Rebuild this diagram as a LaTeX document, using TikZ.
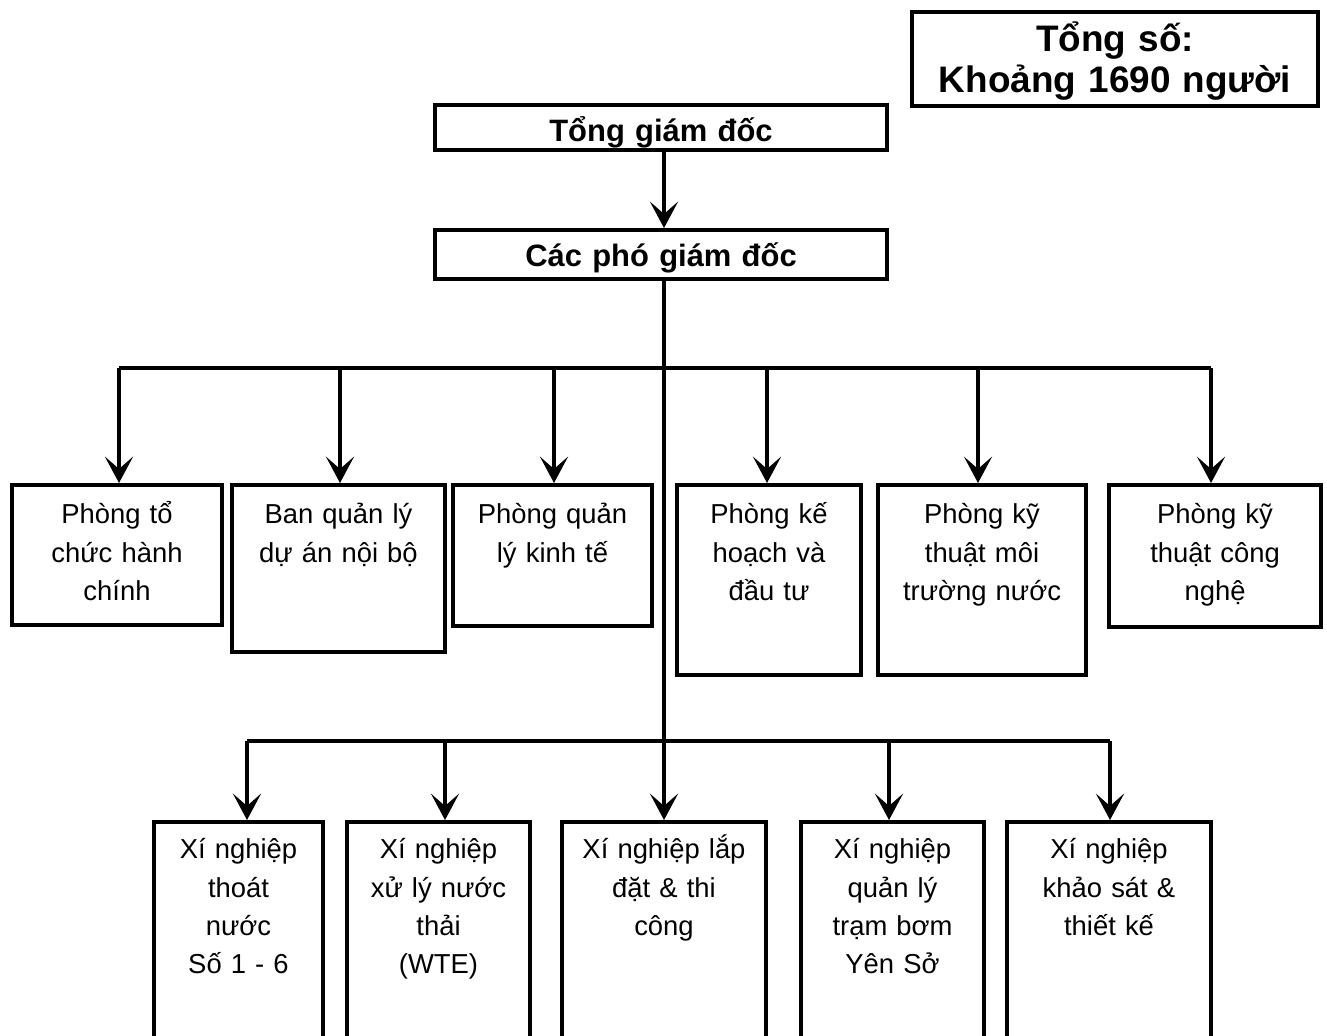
\documentclass[tikz,border=0pt]{standalone}
\usepackage{fontspec}
\setmainfont{Liberation Sans}
\usepackage{tikz}
\usetikzlibrary{arrows.meta, positioning}
\tikzset{
  head/.style={draw, line width=2.2pt, anchor=north, align=center, inner sep=0pt,
    font=\fontsize{17.6pt}{20pt}\selectfont\bfseries},
  unit/.style={draw, line width=2.2pt, anchor=north, align=center, inner sep=0pt,
    font=\fontsize{15.6pt}{21.8pt}\selectfont}
}

\begin{document}
\begin{tikzpicture}[>={Stealth[length=15pt, width=16pt, inset=7pt]},
    x=0.02cm, y=-0.02cm, line width=1.8pt]
  \useasboundingbox (0,0) rectangle (1327,1035);

  % Tổng số
  \node[head, text width=8.12cm, text height=0.8cm, text depth=1.08cm,
    font=\fontsize{21pt}{23pt}\selectfont\bfseries] (total) at (1115,10)
    {Tổng số:\\Khoảng 1690 người};

  % Ban giám đốc
  \node[head, text width=9.04cm, text height=0.74cm, text depth=0.16cm] (ceo) at (661,103) {Tổng giám đốc};
  \node[head, text width=9.04cm, text height=0.74cm, text depth=0.24cm] (vp) at (661,228) {Các phó giám đốc};

  % Các phòng ban
  \node[unit, text width=4.2cm, text height=0.78cm, text depth=2.02cm] (tchc) at (117,483) {Phòng tổ\\chức hành\\chính};
  \node[unit, text width=4.26cm, text height=0.78cm, text depth=2.56cm] (bqlda) at (338.5,483) {Ban quản lý\\dự án nội bộ};
  \node[unit, text width=3.98cm, text height=0.78cm, text depth=2.04cm] (qlkt) at (552.5,483) {Phòng quản\\lý kinh tế};
  \node[unit, text width=3.68cm, text height=0.78cm, text depth=3.02cm] (khdt) at (769,483) {Phòng kế\\hoạch và\\đầu tư};
  \node[unit, text width=4.16cm, text height=0.78cm, text depth=3.02cm] (ktmt) at (982,483) {Phòng kỹ\\thuật môi\\trường nước};
  \node[unit, text width=4.24cm, text height=0.78cm, text depth=2.06cm] (ktcn) at (1215,483) {Phòng kỹ\\thuật công\\nghệ};

  % Các xí nghiệp
  \node[unit, text width=3.38cm, text height=0.74cm, text depth=3.86cm] (xntn) at (238.5,820) {Xí nghiệp\\thoát\\nước\\Số 1 - 6};
  \node[unit, text width=3.66cm, text height=0.74cm, text depth=3.86cm] (xnxl) at (438.5,820) {Xí nghiệp\\xử lý nước\\thải\\(WTE)};
  \node[unit, text width=4.08cm, text height=0.74cm, text depth=3.86cm] (xnld) at (664,820) {Xí nghiệp lắp\\đặt \& thi\\công};
  \node[unit, text width=3.66cm, text height=0.74cm, text depth=3.86cm] (xnqt) at (892.5,820) {Xí nghiệp\\quản lý\\trạm bơm\\Yên Sở};
  \node[unit, text width=4.08cm, text height=0.74cm, text depth=3.86cm] (xnks) at (1109,820) {Xí nghiệp\\khảo sát \&\\thiết kế};

  % Điểm rẽ nhánh
  \coordinate (tchc-in) at (119,368);
  \coordinate (bqlda-in) at (340,368);
  \coordinate (qlkt-in) at (554,368);
  \coordinate (khdt-in) at (767,368);
  \coordinate (ktmt-in) at (978,368);
  \coordinate (ktcn-in) at (1211,368);
  \coordinate (xntn-in) at (247,741);
  \coordinate (xnxl-in) at (445,741);
  \coordinate (xnqt-in) at (889,741);
  \coordinate (xnks-in) at (1110,741);

  % Trục chính
  \draw[->] (ceo.south -| xnld.north) -- (vp.north -| xnld.north);
  \draw[->] (vp.south -| xnld.north) -- (xnld.north);

  % Nhánh phòng ban
  \draw (tchc-in) -- (ktcn-in);
  \draw[->] (tchc-in) -- (tchc-in |- tchc.north);
  \draw[->] (bqlda-in) -- (bqlda-in |- bqlda.north);
  \draw[->] (qlkt-in) -- (qlkt-in |- qlkt.north);
  \draw[->] (khdt-in) -- (khdt-in |- khdt.north);
  \draw[->] (ktmt-in) -- (ktmt-in |- ktmt.north);
  \draw[->] (ktcn-in) -- (ktcn-in |- ktcn.north);

  % Nhánh xí nghiệp
  \draw (xntn-in) -- (xnks-in);
  \draw[->] (xntn-in) -- (xntn-in |- xntn.north);
  \draw[->] (xnxl-in) -- (xnxl-in |- xnxl.north);
  \draw[->] (xnqt-in) -- (xnqt-in |- xnqt.north);
  \draw[->] (xnks-in) -- (xnks-in |- xnks.north);
\end{tikzpicture}
\end{document}
